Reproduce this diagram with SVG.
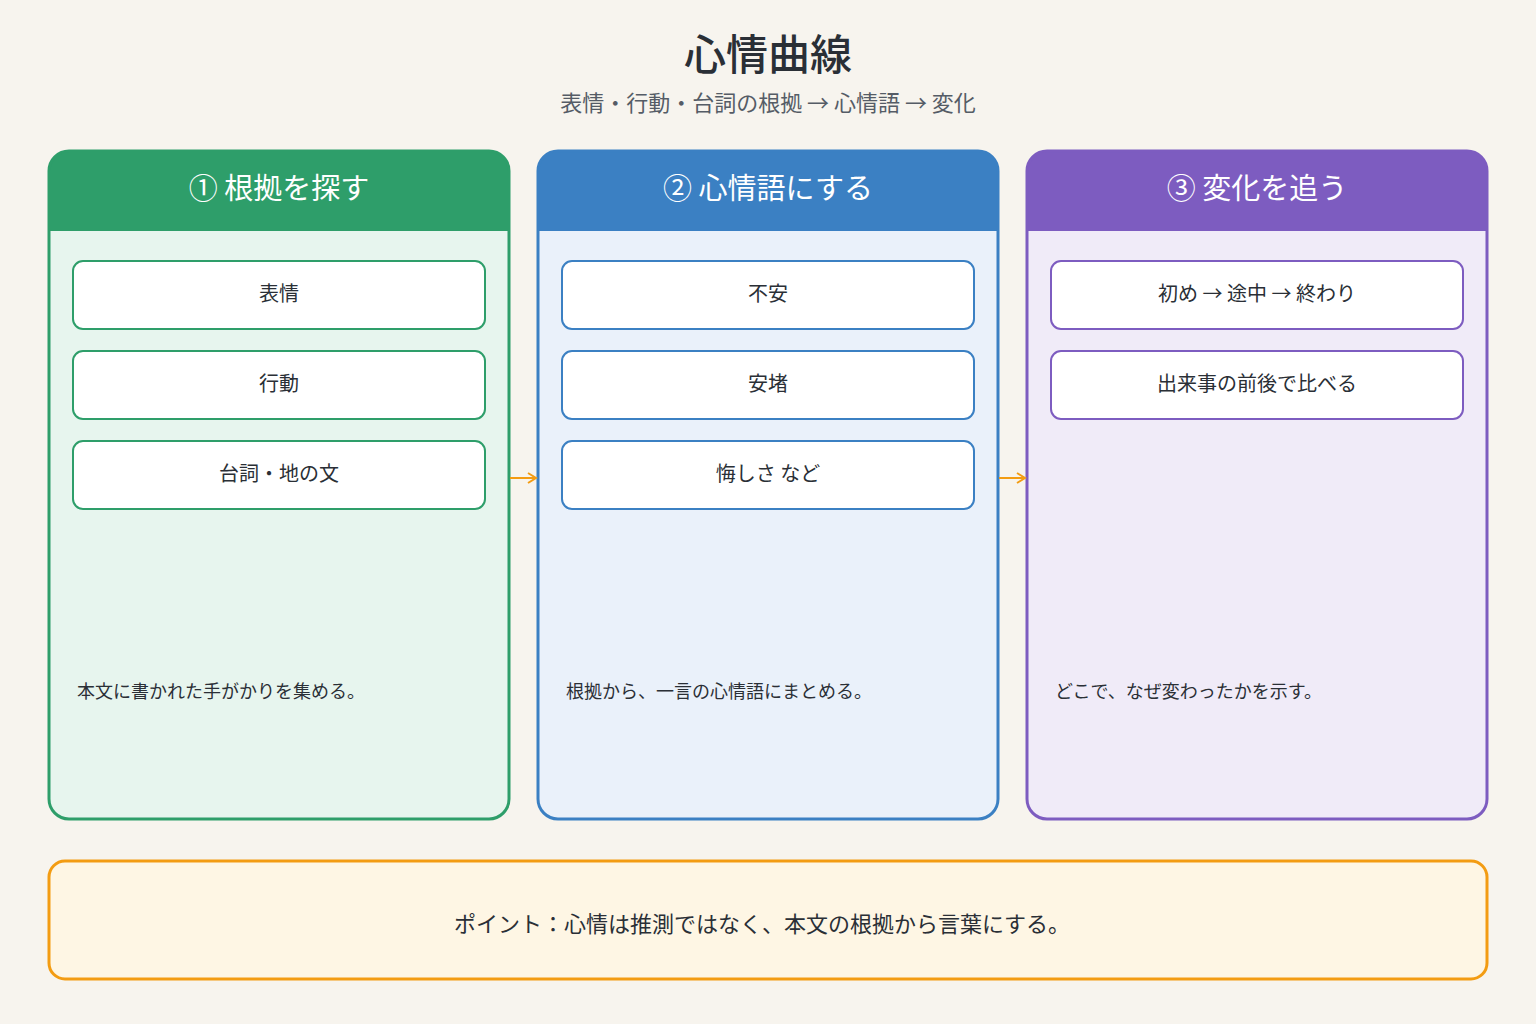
<svg xmlns="http://www.w3.org/2000/svg" width="1536" height="1024" viewBox="0 0 1536 1024">
<style>
text{font-family:"Noto Sans CJK JP","Noto Sans",sans-serif;fill:#2a2f36}
.h{fill:#fff;font-size:29px;text-anchor:middle}
.b{font-size:20px;text-anchor:middle}
.d{font-size:18px}
.box{fill:#fff;stroke-width:2}
</style>
<defs>
<marker id="ar" markerWidth="12" markerHeight="12" refX="10" refY="6" orient="auto" markerUnits="userSpaceOnUse"><path d="M2,1 L10,6 L2,11" fill="none" stroke="#f39c12" stroke-width="2"/></marker>
<clipPath id="c1"><rect x="49" y="151" width="460" height="668" rx="20"/></clipPath>
<clipPath id="c2"><rect x="538" y="151" width="460" height="668" rx="20"/></clipPath>
<clipPath id="c3"><rect x="1027" y="151" width="460" height="668" rx="20"/></clipPath>
</defs>
<rect width="1536" height="1024" fill="#f7f4ee"/>
<text x="768" y="70" font-size="42" text-anchor="middle" font-weight="500">心情曲線</text>
<text x="768" y="111" font-size="22" text-anchor="middle" style="fill:#555c66">表情・行動・台詞の根拠 → 心情語 → 変化</text>

<g id="panel1">
<g clip-path="url(#c1)"><rect x="49" y="151" width="460" height="668" fill="#e7f5ee"/><rect x="49" y="151" width="460" height="80" fill="#2e9e6a"/></g>
<rect x="49" y="151" width="460" height="668" rx="20" fill="none" stroke="#2e9e6a" stroke-width="3"/>
<text class="h" x="279" y="199">① 根拠を探す</text>
<rect class="box" x="73" y="261" width="412" height="68" rx="10" stroke="#2e9e6a"/><text class="b" x="279" y="301">表情</text>
<rect class="box" x="73" y="351" width="412" height="68" rx="10" stroke="#2e9e6a"/><text class="b" x="279" y="391">行動</text>
<rect class="box" x="73" y="441" width="412" height="68" rx="10" stroke="#2e9e6a"/><text class="b" x="279" y="481">台詞・地の文</text>
<text class="d" x="77" y="698">本文に書かれた手がかりを集める。</text>
</g>

<g id="panel2">
<g clip-path="url(#c2)"><rect x="538" y="151" width="460" height="668" fill="#eaf1fa"/><rect x="538" y="151" width="460" height="80" fill="#3b80c3"/></g>
<rect x="538" y="151" width="460" height="668" rx="20" fill="none" stroke="#3b80c3" stroke-width="3"/>
<text class="h" x="768" y="199">② 心情語にする</text>
<rect class="box" x="562" y="261" width="412" height="68" rx="10" stroke="#3b80c3"/><text class="b" x="768" y="301">不安</text>
<rect class="box" x="562" y="351" width="412" height="68" rx="10" stroke="#3b80c3"/><text class="b" x="768" y="391">安堵</text>
<rect class="box" x="562" y="441" width="412" height="68" rx="10" stroke="#3b80c3"/><text class="b" x="768" y="481">悔しさ など</text>
<text class="d" x="566" y="698">根拠から、一言の心情語にまとめる。</text>
</g>

<g id="panel3">
<g clip-path="url(#c3)"><rect x="1027" y="151" width="460" height="668" fill="#f0ebf8"/><rect x="1027" y="151" width="460" height="80" fill="#7d5cc0"/></g>
<rect x="1027" y="151" width="460" height="668" rx="20" fill="none" stroke="#7d5cc0" stroke-width="3"/>
<text class="h" x="1257" y="199">③ 変化を追う</text>
<rect class="box" x="1051" y="261" width="412" height="68" rx="10" stroke="#7d5cc0"/><text class="b" x="1257" y="301">初め → 途中 → 終わり</text>
<rect class="box" x="1051" y="351" width="412" height="68" rx="10" stroke="#7d5cc0"/><text class="b" x="1257" y="391">出来事の前後で比べる</text>
<text class="d" x="1055" y="698">どこで、なぜ変わったかを示す。</text>
</g>

<g id="connectors">
<line x1="510" y1="478" x2="536" y2="478" stroke="#f39c12" stroke-width="2" marker-end="url(#ar)"/>
<line x1="999" y1="478" x2="1025" y2="478" stroke="#f39c12" stroke-width="2" marker-end="url(#ar)"/>
</g>

<g id="note">
<rect x="49" y="861" width="1438" height="118" rx="16" fill="#fef6e4" stroke="#f39c12" stroke-width="3"/>
<text x="762" y="932" font-size="22" text-anchor="middle">ポイント：心情は推測ではなく、本文の根拠から言葉にする。</text>
</g>
</svg>
